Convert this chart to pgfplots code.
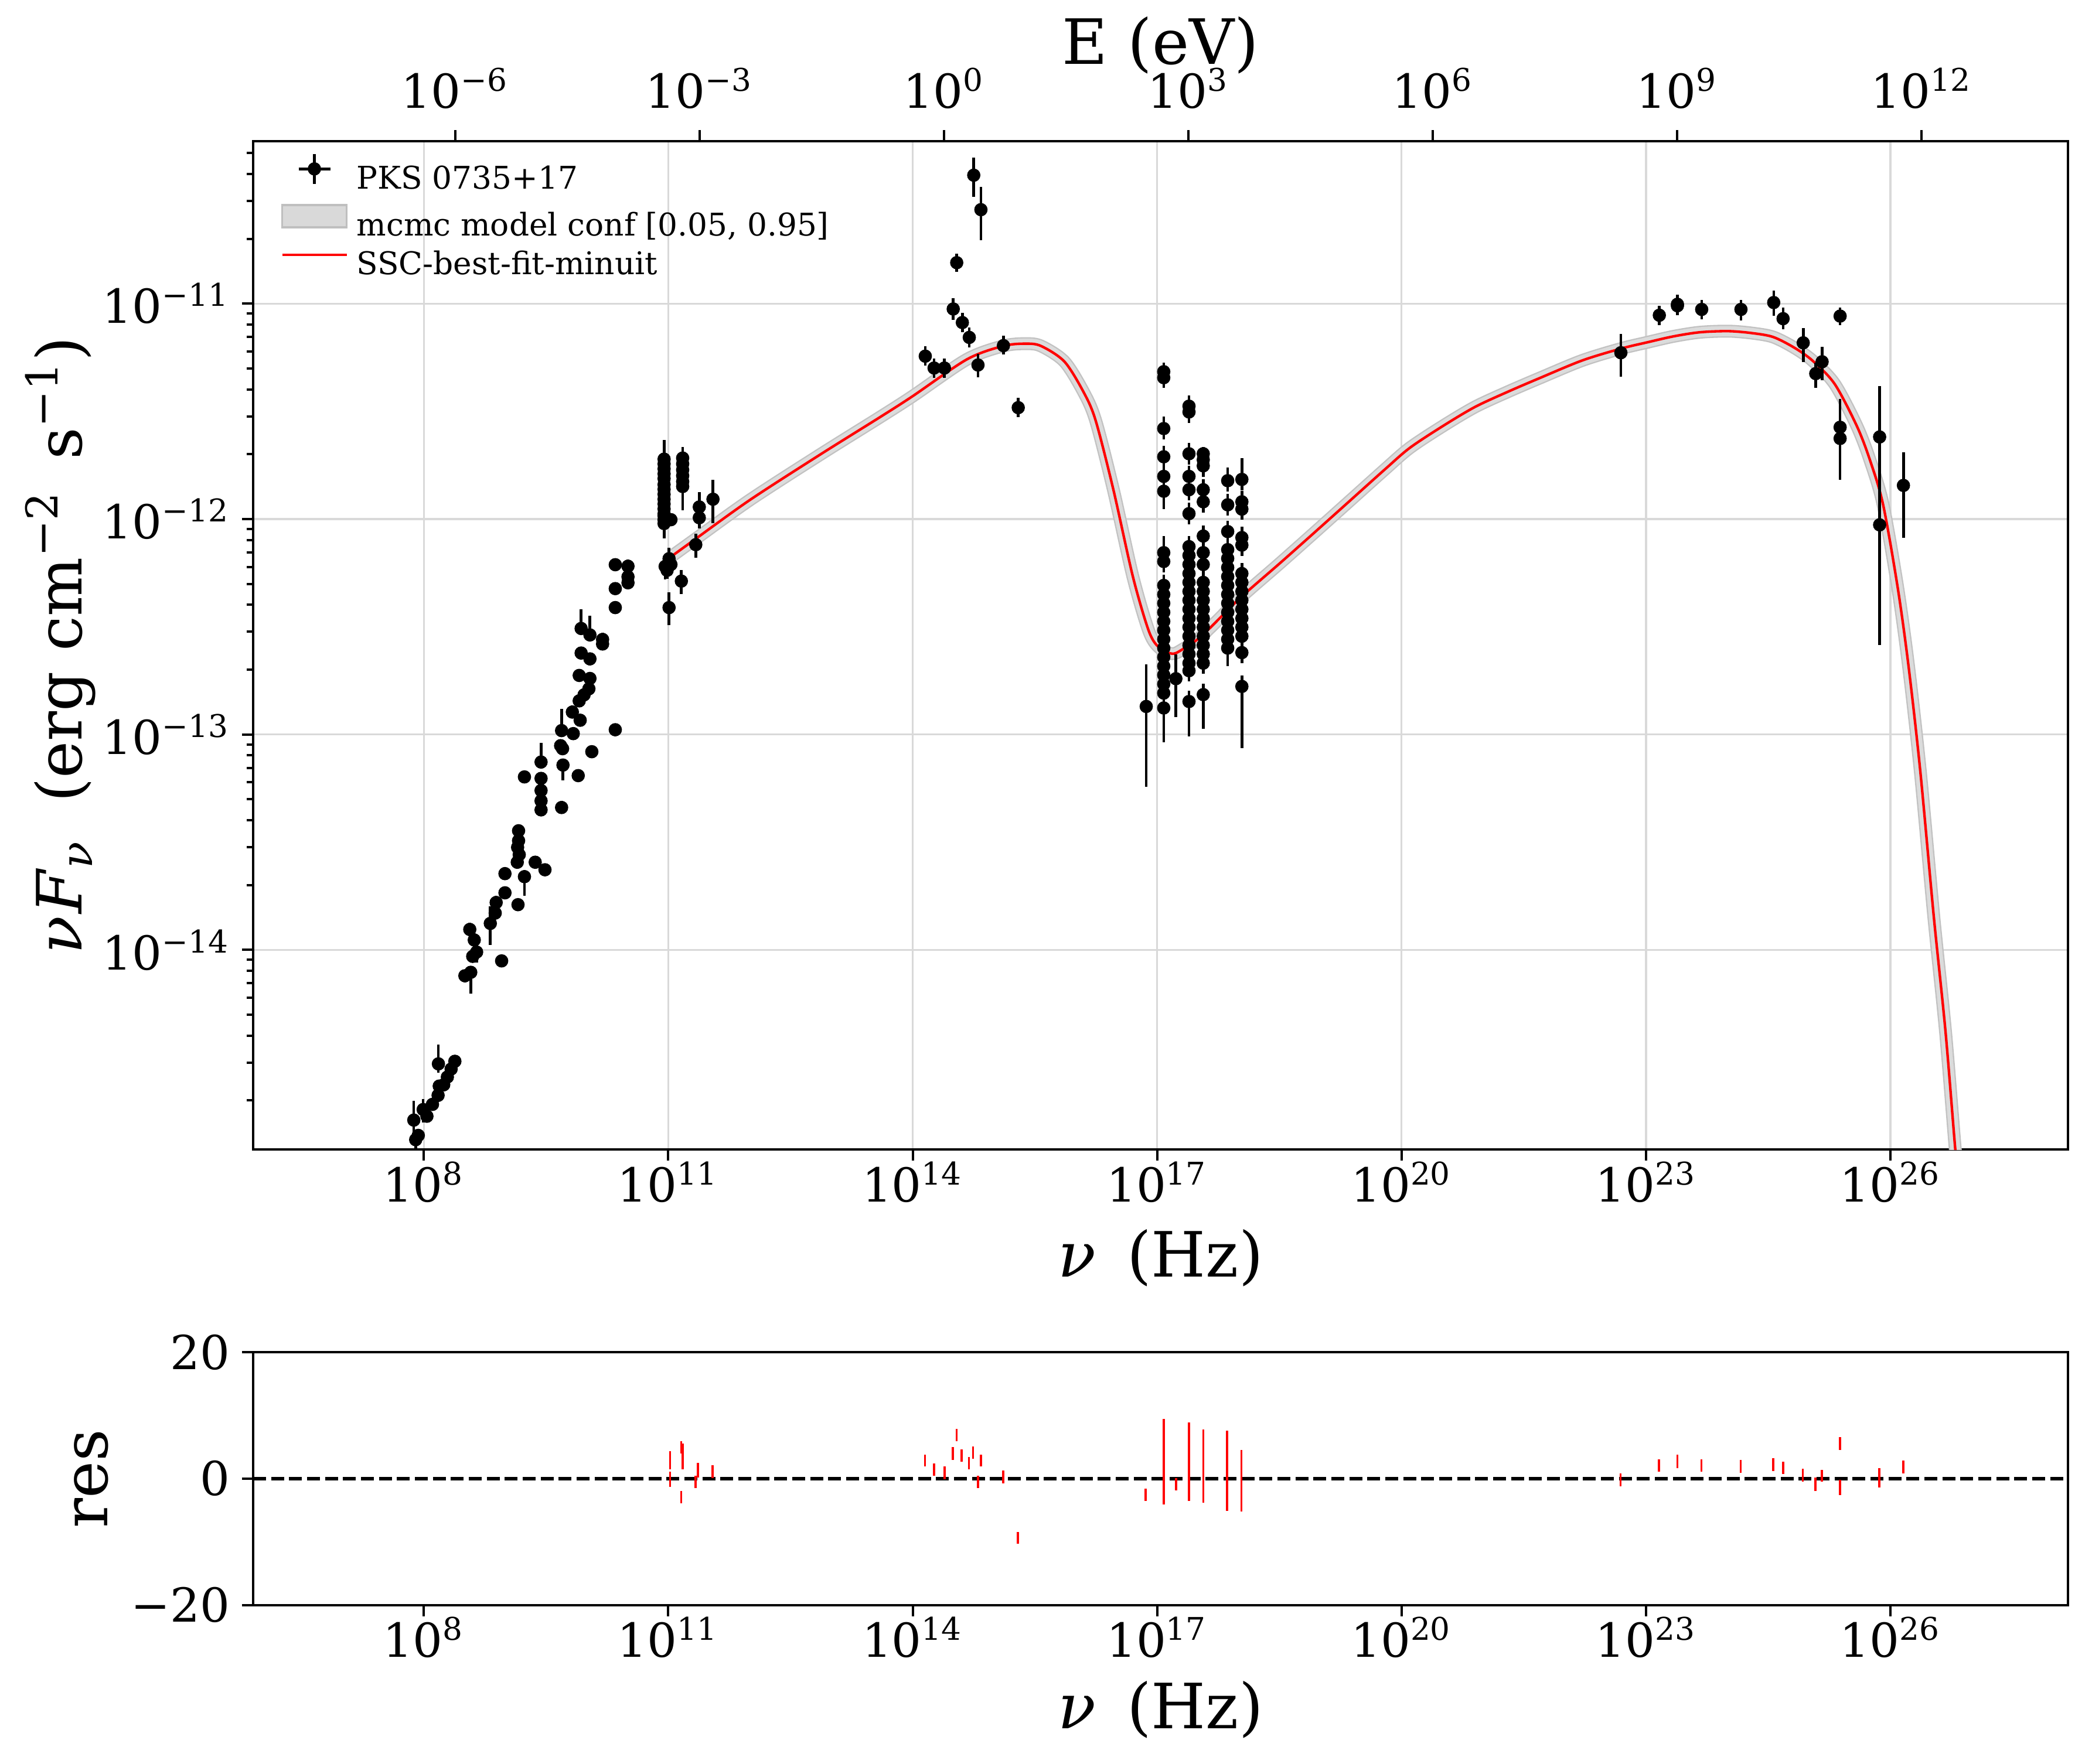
\documentclass[border=0pt]{standalone}
\usepackage{fontspec}
\setmainfont{DejaVu Serif}
\usepackage{pgfplots}
\usepackage{pgfplotstable}
\pgfplotsset{compat=1.18}

% all values are log10(nu/Hz), log10(nuFnu / erg cm-2 s-1), errors in dex
\pgfplotstableread{
lx ly ep em
7.876 -14.790 0.09 0.10
7.899 -14.881 0.03 0.04
7.931 -14.861 0.03 0.03
7.991 -14.741 0.05 0.06
8.037 -14.772 0.03 0.03
8.105 -14.717 0.03 0.03
8.174 -14.675 0.03 0.03
8.178 -14.529 0.09 0.04
8.188 -14.632 0.03 0.03
8.243 -14.626 0.03 0.03
8.288 -14.590 0.03 0.03
8.334 -14.553 0.03 0.03
8.380 -14.517 0.03 0.03
8.503 -14.120 0.03 0.03
8.563 -13.905 0.03 0.03
8.575 -14.104 0.03 0.10
8.599 -14.030 0.03 0.03
8.618 -13.954 0.03 0.03
8.647 -14.010 0.03 0.05
8.815 -13.877 0.08 0.10
8.875 -13.829 0.03 0.03
8.887 -13.780 0.03 0.03
8.954 -14.051 0.03 0.03
8.995 -13.646 0.03 0.03
8.995 -13.735 0.03 0.03
9.146 -13.593 0.03 0.03
9.150 -13.524 0.03 0.03
9.155 -13.790 0.03 0.03
9.162 -13.447 0.03 0.03
9.162 -13.493 0.03 0.03
9.170 -13.558 0.03 0.03
9.234 -13.197 0.03 0.03
9.234 -13.660 0.03 0.09
9.366 -13.593 0.03 0.03
9.438 -13.128 0.09 0.03
9.438 -13.204 0.03 0.03
9.438 -13.260 0.03 0.03
9.438 -13.308 0.03 0.03
9.438 -13.350 0.03 0.03
9.486 -13.628 0.03 0.03
9.678 -13.052 0.03 0.03
9.690 -12.982 0.10 0.03
9.690 -13.339 0.03 0.03
9.702 -13.066 0.03 0.03
9.707 -13.142 0.03 0.07
9.822 -12.896 0.03 0.03
9.833 -12.996 0.03 0.03
9.894 -13.191 0.03 0.03
9.906 -12.844 0.03 0.03
9.906 -12.726 0.03 0.03
9.918 -12.934 0.03 0.03
9.930 -12.508 0.09 0.03
9.930 -12.622 0.03 0.03
9.966 -12.816 0.03 0.03
10.025 -12.788 0.03 0.03
10.038 -12.538 0.09 0.03
10.038 -12.649 0.03 0.03
10.038 -12.740 0.03 0.03
10.061 -13.080 0.03 0.03
10.193 -12.559 0.03 0.03
10.193 -12.580 0.03 0.03
10.349 -12.212 0.03 0.03
10.349 -12.323 0.03 0.03
10.349 -12.411 0.03 0.03
10.349 -12.978 0.03 0.03
10.505 -12.219 0.03 0.03
10.505 -12.268 0.03 0.03
10.505 -12.296 0.03 0.03
10.948 -11.722 0.09 0.03
10.948 -11.744 0.03 0.03
10.948 -11.767 0.03 0.03
10.948 -11.790 0.03 0.03
10.948 -11.812 0.03 0.03
10.948 -11.840 0.03 0.03
10.948 -11.862 0.03 0.03
10.948 -11.885 0.03 0.03
10.948 -11.908 0.03 0.03
10.948 -11.930 0.03 0.03
10.948 -11.953 0.03 0.03
10.948 -11.976 0.03 0.03
10.948 -11.985 0.03 0.03
10.948 -12.003 0.03 0.03
10.948 -12.021 0.03 0.07
10.961 -12.220 0.04 0.06
10.985 -12.238 0.04 0.04
11.009 -12.184 0.05 0.06
11.009 -12.411 0.07 0.08
11.032 -12.003 0.03 0.03
11.032 -12.211 0.04 0.05
11.160 -12.288 0.05 0.06
11.176 -11.717 0.05 0.03
11.176 -11.744 0.03 0.03
11.176 -11.772 0.03 0.03
11.176 -11.799 0.03 0.03
11.176 -11.826 0.03 0.03
11.176 -11.849 0.03 0.11
11.337 -12.119 0.05 0.06
11.380 -11.944 0.07 0.03
11.380 -11.994 0.03 0.05
11.548 -11.908 0.09 0.11
14.154 -11.244 0.045 0.045
14.262 -11.299 0.045 0.045
14.389 -11.299 0.045 0.045
14.497 -11.025 0.05 0.05
14.540 -10.810 0.042 0.042
14.609 -11.088 0.045 0.045
14.694 -11.157 0.045 0.045
14.749 -10.404 0.081 0.101
14.801 -11.285 0.052 0.057
14.837 -10.564 0.106 0.141
15.113 -11.195 0.047 0.042
15.295 -11.483 0.045 0.045
16.866 -12.870 0.195 0.374
17.081 -11.316 0.042 0.03
17.081 -11.344 0.03 0.046
17.081 -11.580 0.056 0.05
17.081 -11.711 0.05 0.05
17.081 -11.802 0.05 0.05
17.081 -11.871 0.05 0.083
17.081 -12.156 0.077 0.05
17.081 -12.197 0.05 0.05
17.081 -12.308 0.05 0.05
17.081 -12.350 0.05 0.05
17.081 -12.391 0.05 0.05
17.081 -12.433 0.05 0.05
17.081 -12.475 0.05 0.05
17.081 -12.516 0.05 0.05
17.081 -12.558 0.05 0.05
17.081 -12.599 0.05 0.05
17.081 -12.641 0.05 0.05
17.081 -12.683 0.05 0.05
17.081 -12.724 0.05 0.05
17.081 -12.766 0.05 0.05
17.081 -12.808 0.05 0.05
17.081 -12.877 0.05 0.159
17.230 -12.741 0.114 0.178
17.391 -11.476 0.049 0.05
17.391 -11.503 0.05 0.05
17.391 -11.697 0.05 0.05
17.391 -11.802 0.05 0.05
17.391 -11.864 0.05 0.05
17.391 -11.975 0.05 0.05
17.391 -12.128 0.05 0.05
17.391 -12.169 0.05 0.05
17.391 -12.211 0.05 0.05
17.391 -12.253 0.05 0.05
17.391 -12.294 0.05 0.05
17.391 -12.336 0.05 0.05
17.391 -12.377 0.05 0.05
17.391 -12.419 0.05 0.05
17.391 -12.461 0.05 0.05
17.391 -12.502 0.05 0.05
17.391 -12.544 0.05 0.05
17.391 -12.586 0.05 0.05
17.391 -12.627 0.05 0.05
17.391 -12.669 0.05 0.05
17.391 -12.704 0.05 0.05
17.391 -12.847 0.05 0.161
17.566 -11.697 0.03 0.05
17.566 -11.725 0.05 0.05
17.566 -11.753 0.05 0.05
17.566 -11.864 0.05 0.05
17.566 -11.920 0.05 0.05
17.566 -12.079 0.05 0.05
17.566 -12.156 0.05 0.05
17.566 -12.211 0.05 0.05
17.566 -12.294 0.05 0.05
17.566 -12.336 0.05 0.05
17.566 -12.377 0.05 0.05
17.566 -12.419 0.05 0.05
17.566 -12.461 0.05 0.05
17.566 -12.502 0.05 0.05
17.566 -12.544 0.05 0.05
17.566 -12.586 0.05 0.05
17.566 -12.627 0.05 0.05
17.566 -12.669 0.05 0.05
17.566 -12.815 0.05 0.159
17.866 -11.822 0.062 0.05
17.866 -11.934 0.05 0.05
17.866 -12.058 0.05 0.05
17.866 -12.142 0.05 0.05
17.866 -12.183 0.05 0.05
17.866 -12.225 0.05 0.05
17.866 -12.267 0.05 0.05
17.866 -12.308 0.05 0.05
17.866 -12.350 0.05 0.05
17.866 -12.391 0.05 0.05
17.866 -12.433 0.05 0.05
17.866 -12.475 0.05 0.05
17.866 -12.516 0.05 0.05
17.866 -12.558 0.05 0.05
17.866 -12.599 0.05 0.084
18.040 -11.816 0.099 0.05
18.040 -11.920 0.05 0.05
18.040 -11.954 0.05 0.05
18.040 -12.086 0.05 0.05
18.040 -12.121 0.05 0.05
18.040 -12.253 0.05 0.05
18.040 -12.294 0.05 0.05
18.040 -12.336 0.05 0.05
18.040 -12.377 0.05 0.05
18.040 -12.419 0.05 0.05
18.040 -12.461 0.05 0.05
18.040 -12.502 0.05 0.05
18.040 -12.544 0.05 0.05
18.040 -12.620 0.05 0.05
18.040 -12.777 0.05 0.287
22.692 -11.228 0.088 0.111
23.164 -11.054 0.045 0.046
23.386 -11.003 0.045 0.04
23.386 -11.010 0.04 0.045
23.684 -11.027 0.043 0.045
24.166 -11.027 0.043 0.05
24.568 -10.995 0.056 0.062
24.683 -11.070 0.052 0.050
24.930 -11.182 0.069 0.088
25.084 -11.325 0.051 0.065
25.162 -11.270 0.069 0.085
25.383 -11.058 0.040 0.042
25.383 -11.574 0.130 0.10
25.383 -11.626 0.10 0.191
25.868 -11.619 0.236 0.56
25.868 -12.027 0.23 0.559
26.160 -11.844 0.155 0.243
}\sed

\pgfplotstableread{
lx ly
11.054 -12.169
11.332 -12.093
12.003 -11.911
12.867 -11.700
13.586 -11.530
13.994 -11.431
14.664 -11.259
15.108 -11.197
15.384 -11.186
15.576 -11.197
15.864 -11.270
16.103 -11.415
16.247 -11.545
16.463 -11.864
16.702 -12.267
16.894 -12.516
17.014 -12.593
17.182 -12.625
17.302 -12.607
17.542 -12.544
17.950 -12.391
18.141 -12.325
18.501 -12.207
18.900 -12.073
19.340 -11.924
19.800 -11.768
20.100 -11.670
20.500 -11.570
20.900 -11.480
21.300 -11.410
21.700 -11.345
22.217 -11.264
22.692 -11.209
23.013 -11.180
23.339 -11.152
23.663 -11.133
24.015 -11.128
24.303 -11.137
24.561 -11.155
24.818 -11.204
25.042 -11.264
25.316 -11.373
25.588 -11.568
25.749 -11.726
25.910 -11.932
26.089 -12.316
26.222 -12.680
26.366 -13.166
26.533 -13.846
26.677 -14.380
26.797 -14.927
26.850 -15.120
}\model

\pgfplotstableread{
lx r e
11.022 2.90 1.45
11.022 -0.11 1.22
11.158 4.94 1.00
11.178 3.50 2.00
11.158 -2.95 1.00
11.335 -0.54 1.00
11.365 1.33 1.17
11.541 1.11 1.00
14.150 2.84 0.96
14.261 1.40 0.95
14.392 0.88 1.00
14.493 3.98 1.02
14.538 6.87 1.00
14.599 3.67 0.96
14.690 2.44 0.99
14.740 4.10 0.98
14.801 -0.54 1.00
14.836 2.86 0.95
15.113 0.26 1.00
15.290 -9.35 0.93
16.859 -2.59 0.99
17.081 2.67 6.74
17.232 -0.91 1.00
17.389 2.67 6.25
17.566 1.96 5.79
17.858 1.25 6.37
18.035 -0.37 4.88
22.689 -0.19 0.99
23.161 2.07 0.99
23.386 2.72 1.05
23.681 2.07 0.99
24.163 1.94 0.99
24.564 2.19 0.99
24.683 1.70 0.99
24.924 0.52 0.99
25.081 -0.91 1.10
25.159 0.46 0.93
25.381 5.54 1.00
25.381 -1.40 1.20
25.863 0.11 1.53
26.161 1.84 1.00
}\res

\newcommand{\tl}[1]{\mbox{10\textsuperscript{#1}}}

\pgfplotsset{
  sedbase/.style={
    scale only axis, width=464.55pt,
    xmin=5.904, xmax=28.18,
    axis line style={line width=0.6pt},
    tick style={black, line width=0.6pt},
    major tick length=2.85pt, minor tick length=1.6pt,
    tick align=outside,
    ticklabel style={font=\fontsize{12}{14}\selectfont},
    label style={font=\fontsize{16}{19}\selectfont},
    xtick={8,11,...,26},
    xticklabels={\tl{8},\tl{11},\tl{14},\tl{17},\tl{20},\tl{23},\tl{26}},
    xtick pos=left, ytick pos=left,
    xticklabel style={inner sep=0pt, anchor=north},
    yticklabel style={inner sep=0pt, anchor=east, xshift=-2.85pt},
  },
}

\begin{document}
\begin{tikzpicture}
\useasboundingbox (0,0) rectangle (535.5pt,451.65pt);

% energy axis on top
\begin{axis}[
  scale only axis, width=464.55pt, height=258.2pt,
  at={(64.8pt,157.3pt)}, anchor=south west,
  xmin=-8.4795, xmax=13.7965, ymin=0, ymax=1,
  axis x line*=top, axis y line=none,
  axis line style={line width=0.6pt},
  tick style={black, line width=0.6pt},
  major tick length=2.85pt, tick align=outside,
  xtick={-6,-3,...,12},
  xticklabels={\tl{−6},\tl{−3},\tl{0},\tl{3},\tl{6},\tl{9},\tl{12}},
  xticklabel style={font=\fontsize{12}{14}\selectfont, inner sep=0pt, anchor=base, yshift=5.55pt},
  xlabel={E (eV)},
  xlabel style={font=\fontsize{16}{19}\selectfont, at={(axis description cs:0.5,1.0761)}, anchor=base},
]
\end{axis}

% SED panel
\begin{axis}[
  sedbase, height=258.2pt,
  at={(64.8pt,157.3pt)}, anchor=south west,
  ymin=-14.927, ymax=-10.246,
  ytick={-14,-13,-12,-11},
  yticklabels={\tl{−14},\tl{−13},\tl{−12},\tl{−11}},
  minor ytick={-14.699,-14.523,-14.398,-14.301,-14.222,-14.155,-14.097,-14.046,
    -13.699,-13.523,-13.398,-13.301,-13.222,-13.155,-13.097,-13.046,
    -12.699,-12.523,-12.398,-12.301,-12.222,-12.155,-12.097,-12.046,
    -11.699,-11.523,-11.398,-11.301,-11.222,-11.155,-11.097,-11.046,
    -10.699,-10.523,-10.398,-10.301},
  xmajorgrids, ymajorgrids,
  major grid style={gray!30, line width=0.5pt},
  xlabel={\textit{ν}\hspace{0.5em}(Hz)},
  xlabel style={at={(axis description cs:0.5,-0.126)}, anchor=base},
  ylabel={\textit{ν\kern0.04em F}\textsubscript{\textit{ν}}\hspace{0.6em}(erg cm\textsuperscript{−2}\hspace{0.5em}s\textsuperscript{−1})},
  ylabel style={at={(axis description cs:-0.1062,0.5)}, anchor=center},
  legend cell align=left,
  legend style={at={(0,1)}, anchor=north west, xshift=7.1pt, yshift=-2.9pt,
    draw=none, fill=none, inner sep=0pt, outer sep=0pt,
    font=\fontsize{8}{10}\selectfont, row sep=2.1pt,
    nodes={inner sep=0pt, text height=6pt, text depth=1.8pt},
    /tikz/every odd column/.append style={column sep=2.25pt}},
]
\addlegendimage{legend image code/.code={
  \path[draw=none, fill=none] (0pt,0pt) -- (16.5pt,0pt);
  \draw[black, line width=0.7pt] (8.25pt,-0.85pt) -- (8.25pt,6.85pt);
  \draw[black, line width=0.7pt] (4.2pt,3pt) -- (12.3pt,3pt);
  \fill[black] (8.25pt,3pt) circle (1.5pt);}}
\addlegendentry{PKS 0735+17}
\addlegendimage{legend image code/.code={
  \filldraw[fill=gray!30, draw=gray!50, line width=0.5pt] (0pt,0.15pt) rectangle (16.5pt,5.85pt);}}
\addlegendentry{mcmc model conf [0.05, 0.95]}
\addlegendimage{legend image code/.code={
  \draw[red, line width=0.65pt] (0pt,3pt) -- (16.5pt,3pt);}}
\addlegendentry{SSC-best-fit-minuit}

\addplot[forget plot, gray!48, line width=3.3pt, smooth, tension=0.5, line join=round] table[x=lx, y=ly] {\model};
\addplot[forget plot, gray!28, line width=2.6pt, smooth, tension=0.5, line join=round] table[x=lx, y=ly] {\model};
\addplot[forget plot, red, line width=0.65pt, smooth, tension=0.5, line join=round] table[x=lx, y=ly] {\model};
\addplot[forget plot, black, only marks, mark=*, mark size=1.5pt,
  error bars/.cd, y dir=both, y explicit, error mark=none,
  error bar style={line width=0.7pt, black}]
  table[x=lx, y=ly, y error plus=ep, y error minus=em] {\sed};
\end{axis}

% residual panel
\begin{axis}[
  sedbase, height=64.76pt,
  at={(64.8pt,40.7pt)}, anchor=south west,
  ymin=-20, ymax=20, ytick={-20,0,20}, yticklabels={−20,0,20},
  xlabel={\textit{ν}\hspace{0.5em}(Hz)},
  xlabel style={at={(axis description cs:0.5,-0.489)}, anchor=base},
  ylabel={res},
  ylabel style={at={(axis description cs:-0.0891,0.5)}, anchor=center},
]
\addplot[black, line width=0.9pt, dash pattern=on 3.3pt off 1.3pt] coordinates {(5.904,0) (28.18,0)};
\addplot[draw=none, mark=none,
  error bars/.cd, y dir=both, y explicit, error mark=none,
  error bar style={draw=red, line width=0.55pt}]
  table[x=lx, y=r, y error=e] {\res};
\end{axis}
\end{tikzpicture}
\end{document}
